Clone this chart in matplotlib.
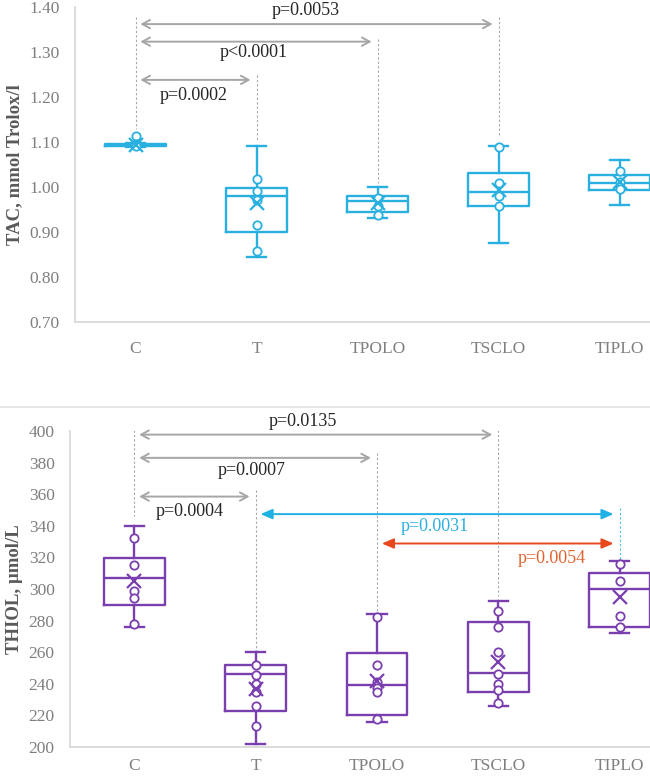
import matplotlib
matplotlib.use("Agg")
import matplotlib.pyplot as plt
from matplotlib.lines import Line2D

# ---------------- data ----------------
categories = ["C", "T", "TPOLO", "TSCLO", "TIPLO"]

# TAC (mmol Trolox/l)
tac_whislo = [1.088, 0.845, 0.932, 0.876, 0.961]
tac_q1     = [1.091, 0.900, 0.945, 0.958, 0.994]
tac_med    = [1.093, 0.981, 0.968, 0.989, 1.009]
tac_q3     = [1.095, 0.997, 0.979, 1.030, 1.026]
tac_whishi = [1.097, 1.091, 1.000, 1.091, 1.060]
tac_mean   = [1.093, 0.964, 0.965, 0.994, 1.012]
tac_points = [
    [1.113, 1.095, 1.093, 1.090],
    [1.017, 0.990, 0.972, 0.915, 0.857],
    [0.976, 0.958, 0.937],
    [1.088, 1.009, 0.980, 0.958],
    [1.035, 1.010, 0.995],
]

# THIOL (umol/L)
thiol_whislo = [276, 202, 216, 226, 272]
thiol_q1     = [290, 223, 220, 234.5, 276]
thiol_med    = [307, 246, 239.5, 247, 300]
thiol_q3     = [319.5, 252, 259.5, 279, 310]
thiol_whishi = [340, 260, 284, 292.5, 318]
thiol_mean   = [305, 237, 242, 253.5, 295]
thiol_points = [
    [332, 315, 299, 294, 278],
    [252, 245.5, 240, 234.5, 226, 213],
    [282, 252, 241, 237.5, 234.5, 218],
    [286, 276, 260, 246, 240, 236, 228],
    [316, 305, 283, 276],
]

# significance annotations: (from idx, to idx, arrow y, text, text x, text y, colour)
tac_sig = [
    (0, 3, 1.362, "p=0.0053", 1.41, 1.393, "gray"),
    (0, 2, 1.323, "p<0.0001", 0.98, 1.298, "gray"),
    (0, 1, 1.238, "p=0.0002", 0.48, 1.203, "gray"),
]
tac_drops = [(0, 1.378, 1.130), (1, 1.249, 1.105), (2, 1.329, 1.008), (3, 1.378, 1.110)]

thiol_sig = [
    (0, 3, 397.7, "p=0.0135", 1.39, 405.7, "gray"),
    (0, 2, 383.0, "p=0.0007", 0.97, 375.3, "gray"),
    (0, 1, 358.5, "p=0.0004", 0.46, 349.1, "gray"),
    (1, 4, 347.4, "p=0.0031", 2.48, 339.7, "blue"),
    (2, 4, 328.8, "p=0.0054", 3.44, 319.4, "orange"),
]
thiol_drops = [(0, 400.8, 346), (1, 362.7, 261), (2, 385.8, 286), (3, 400.8, 295.7)]
thiol_drop_blue = [(4, 351, 318.7)]

# ---------------- style ----------------
SERIF = ["Liberation Serif", "DejaVu Serif"]
plt.rcParams["font.family"] = SERIF
TICK_C = "#7f7f7f"
LABEL_C = "#595959"
SPINE_C = "#d9d9d9"
ARROW_C = {"gray": "#a6a6a6", "blue": "#1fb0e4", "orange": "#e8481e"}
TEXT_C = {"gray": "#262626", "blue": "#2bb0e0", "orange": "#e0642e"}
TAC_C = "#2ab0e0"
THIOL_C = "#7a3fae"

fig = plt.figure(figsize=(6.5, 7.79), dpi=100)
W, H = 650, 779


def make_axes(left_px, top_px, bottom_px):
    return fig.add_axes([left_px / W, 1 - bottom_px / H, 1 - left_px / W,
                         (bottom_px - top_px) / H])


def style_axes(ax, xpad):
    for s in ["top", "right"]:
        ax.spines[s].set_visible(False)
    for s in ["left", "bottom"]:
        ax.spines[s].set_color(SPINE_C)
        ax.spines[s].set_linewidth(1.3)
    ax.tick_params(axis="both", length=0, colors=TICK_C, labelsize=12.5)
    ax.tick_params(axis="y", pad=11)
    ax.tick_params(axis="x", pad=xpad)
    ax.set_xticks(range(len(categories)))
    ax.set_xticklabels(categories)


def draw_boxes(ax, lo, q1, med, q3, hi, mean, pts, color, lw):
    stats = []
    for i in range(len(categories)):
        stats.append(dict(whislo=lo[i], q1=q1[i], med=med[i], q3=q3[i],
                          whishi=hi[i], mean=mean[i], fliers=[], label=categories[i]))
    props = dict(color=color, linewidth=lw)
    ax.bxp(stats, positions=range(len(categories)), widths=0.5, showfliers=False,
           showmeans=False, boxprops=props, whiskerprops=props, capprops=props,
           medianprops=props, capwidths=0.16, manage_ticks=False)
    for i, p in enumerate(pts):
        ax.plot([i] * len(p), p, ls="none", marker="o", ms=6, mfc="white",
                mec=color, mew=1.3, zorder=4)
    ax.plot(range(len(categories)), mean, ls="none", marker="x", ms=10,
            mec=color, mew=1.6, zorder=5)


def draw_sig(ax, sig, drops, drop_color="#a6a6a6"):
    for (i, y0, y1) in drops:
        ax.plot([i, i], [y0, y1], ls=(0, (2, 2)), lw=0.8, color=drop_color, zorder=1)
    for (a, b, y, txt, tx, ty, c) in sig:
        style = "<->,head_length=0.55,head_width=0.3" if c == "gray" else "<|-|>,head_length=0.7,head_width=0.3"
        ax.annotate("", xy=(b - 0.05, y), xytext=(a + 0.04, y),
                    arrowprops=dict(arrowstyle=style, color=ARROW_C[c], lw=1.4,
                                    shrinkA=0, shrinkB=0), zorder=3)
        ax.text(tx, ty, txt, ha="center", va="center", fontsize=13,
                color=TEXT_C[c], zorder=6)


# ---------------- top panel: TAC ----------------
ax1 = make_axes(75, 7, 322)
ax1.set_xlim(-0.5, 4.25)
ax1.set_ylim(0.70, 1.40)
ax1.set_yticks([0.70, 0.80, 0.90, 1.00, 1.10, 1.20, 1.30, 1.40])
ax1.set_yticklabels(["0.70", "0.80", "0.90", "1.00", "1.10", "1.20", "1.30", "1.40"])
style_axes(ax1, 14)
draw_sig(ax1, tac_sig, tac_drops)
draw_boxes(ax1, tac_whislo, tac_q1, tac_med, tac_q3, tac_whishi, tac_mean,
           tac_points, TAC_C, 1.7)
fig.text(15 / W, 1 - 164.5 / H, "TAC, mmol Trolox/l", rotation=90, ha="center",
         va="center", fontsize=13.5, fontweight="bold", color=LABEL_C)

# separator line
fig.add_artist(Line2D([0, 1], [1 - 407 / H] * 2, color="#e3e3e3", lw=1.2))

# ---------------- bottom panel: THIOL ----------------
ax2 = make_axes(70, 431, 747)
ax2.set_xlim(-0.53, 4.25)
ax2.set_ylim(200, 400)
ax2.set_yticks(range(200, 401, 20))
style_axes(ax2, 8)
draw_sig(ax2, thiol_sig, thiol_drops)
draw_sig(ax2, [], thiol_drop_blue, drop_color="#4cbfe6")
draw_boxes(ax2, thiol_whislo, thiol_q1, thiol_med, thiol_q3, thiol_whishi,
           thiol_mean, thiol_points, THIOL_C, 1.7)
fig.text(15 / W, 1 - 589 / H, "THIOL, µmol/L", rotation=90, ha="center",
         va="center", fontsize=13.5, fontweight="bold", color=LABEL_C)

fig.savefig("out.png", dpi=100)
